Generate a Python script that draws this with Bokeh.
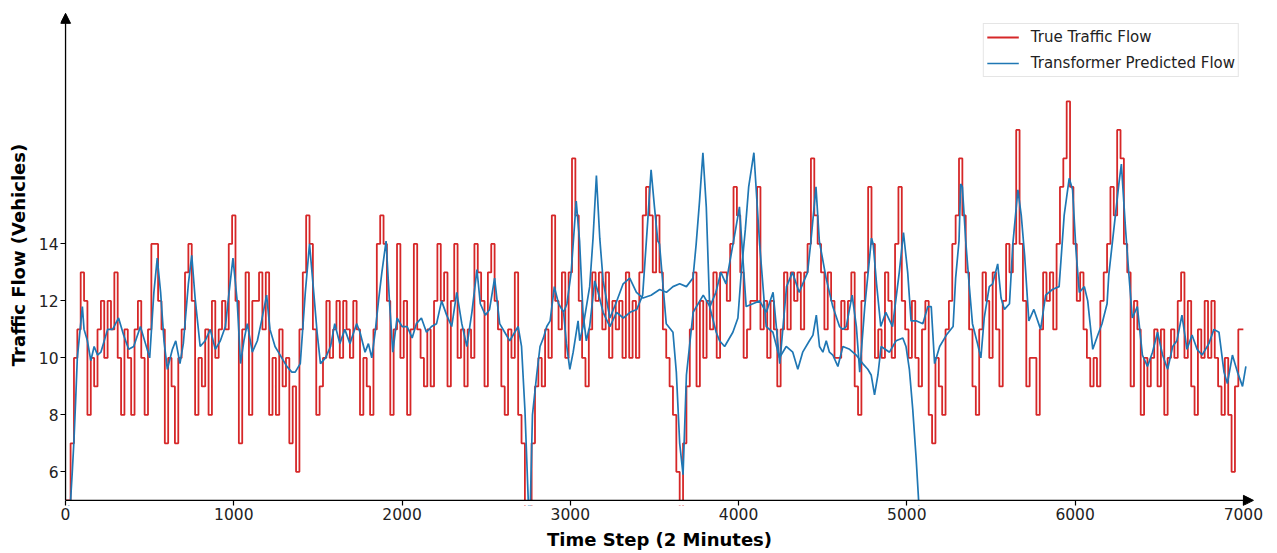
import numpy as np
from bokeh.plotting import figure
from bokeh.models import FixedTicker, Range1d, Arrow, NormalHead, BoxAnnotation
from bokeh.embed import file_html
from bokeh.resources import INLINE

# ---------------- data ----------------
true_step = 20  # sampling interval of the true-flow trace (time steps)
true_flow = [
    5, 5, 7, 10, 11, 13, 12, 8, 10, 9, 11, 12, 10, 12, 11, 13, 10, 8, 11, 10,
    8, 11, 12, 10, 8, 11, 14, 14, 12, 11, 7, 10, 9, 7, 10, 11, 13, 14, 12, 8,
    10, 9, 11, 8, 12, 10, 11, 12, 11, 14,
    15, 12, 7, 11, 13, 8, 12, 12, 13, 11, 13, 8, 10, 8, 11, 9, 10, 7, 9, 6,
    11, 13, 15, 14, 11, 8, 9, 10, 12, 10, 11, 12, 10, 12, 11, 10, 12, 11, 8, 10,
    9, 8, 11, 14, 15, 14, 12, 8, 11, 14,
    10, 12, 8, 11, 14, 11, 10, 9, 11, 9, 12, 14, 12, 13, 9, 12, 14, 10, 11, 9,
    11, 10, 14, 13, 12, 9, 13, 14, 12, 11, 9, 8, 11, 10, 13, 8, 7, 4, 4, 7,
    9, 10, 9, 11, 10, 15, 12, 11, 13, 10,
    13, 17, 15, 12, 10, 9, 11, 13, 12, 13, 11, 13, 10, 12, 11, 12, 10, 13, 10, 12,
    10, 13, 15, 16, 15, 13, 15, 13, 11, 10, 9, 8, 6, 4, 7, 9, 11, 13, 9, 12,
    10, 12, 11, 13, 10, 13, 13, 12, 14, 16,
    15, 13, 10, 11, 12, 12, 16, 11, 12, 10, 12, 11, 9, 11, 13, 11, 13, 12, 13, 11,
    13, 14, 17, 15, 14, 13, 11, 13, 12, 10, 10, 12, 11, 12, 13, 9, 8, 12, 13, 16,
    14, 10, 11, 10, 13, 12, 10, 14, 16, 12,
    11, 10, 12, 10, 9, 11, 12, 8, 7, 10, 9, 8, 11, 12, 14, 15, 17, 15, 13, 11,
    9, 8, 11, 13, 12, 10, 13, 11, 9, 12, 14, 13, 14, 18, 14, 12, 9, 10, 10, 8,
    11, 13, 12, 13, 11, 14, 16, 17, 19, 16,
    14, 12, 13, 11, 10, 9, 10, 9, 12, 13, 14, 16, 15, 18, 17, 14, 13, 9, 12, 11,
    8, 10, 9, 10, 11, 9, 11, 8, 10, 11, 10, 12, 13, 10, 12, 9, 8, 11, 10, 12,
    10, 12, 10, 9, 8, 10, 8, 6, 9, 11,
    11,
]

pred_time = [
    0, 30, 40, 50, 60, 70, 85, 100, 110, 130,
    150, 170, 190, 210, 230, 250, 280, 315, 345, 375,
    405, 445, 475, 500, 525, 545, 565, 585, 605, 635,
    655, 680, 700, 730, 750, 770, 800, 830, 860, 890,
    920, 950, 970, 995, 1020, 1040, 1060, 1080, 1110, 1140,
    1165, 1195, 1215, 1245, 1265, 1285, 1315, 1345, 1365, 1395,
    1425, 1450, 1475, 1495, 1515, 1545, 1575, 1600, 1630, 1660,
    1690, 1730, 1750, 1780, 1800, 1820, 1840, 1860, 1880, 1905,
    1925, 1945, 1970, 2000, 2030, 2060, 2085, 2115, 2145, 2175,
    2205, 2235, 2265, 2295, 2325, 2355, 2385, 2415, 2445, 2465,
    2495, 2520, 2550, 2580, 2610, 2640, 2690, 2710, 2730, 2750,
    2760, 2775, 2800, 2820, 2840, 2860, 2880, 2905, 2930, 2960,
    2980, 3005, 3035, 3055, 3075, 3095, 3115, 3145, 3165, 3195,
    3235, 3275, 3315, 3355, 3395, 3430, 3460, 3480, 3500, 3520,
    3530, 3570, 3610, 3630, 3650, 3670, 3690, 3730, 3790, 3830,
    3865, 3895, 3925, 3985, 4005, 4045, 4085, 4125, 4165, 4205,
    4245, 4285, 4320, 4360, 4410, 4430, 4460, 4480, 4520, 4560,
    4600, 4620, 4640, 4675, 4700, 4720, 4750, 4790, 4800, 4820,
    4845, 4875, 4915, 4955, 4980, 5005, 5025, 5055, 5095, 5125,
    5145, 5165, 5195, 5235, 5275, 5290, 5310, 5320, 5330, 5350,
    5370, 5390, 5420, 5440, 5460, 5490, 5510, 5540, 5560, 5580,
    5610, 5630, 5660, 5680, 5700, 5725, 5755, 5795, 5825, 5865,
    5905, 5935, 5965, 5985, 6005, 6025, 6055, 6075, 6105, 6135,
    6160, 6190, 6200, 6230, 6260, 6275, 6300, 6320, 6340, 6370,
    6400, 6430, 6460, 6490, 6520, 6550, 6580, 6605, 6635, 6665,
    6695, 6725, 6755, 6795, 6825, 6855, 6885, 6905, 6935, 6965,
    6995, 7015,
]
pred_flow = [
    4.5, 5.0, 6.0, 7.1, 8.5, 10.0, 10.9, 11.8, 11.0, 10.6,
    9.9, 10.4, 10.1, 10.2, 10.6, 11.0, 11.0, 11.4, 10.8, 10.3,
    10.4, 11.1, 10.5, 10.0, 12.3, 13.5, 12.3, 10.6, 9.6, 10.3,
    10.6, 9.8, 10.5, 12.6, 13.6, 12.1, 10.4, 10.6, 11.0, 10.3,
    10.6, 11.1, 12.2, 13.5, 12.0, 9.8, 10.6, 11.2, 10.2, 10.6,
    11.3, 12.2, 11.0, 10.4, 10.2, 10.0, 9.7, 9.5, 9.5, 9.8,
    12.3, 14.0, 12.3, 10.9, 9.8, 10.0, 10.4, 11.2, 10.5, 11.0,
    10.5, 11.2, 10.9, 10.2, 10.5, 10.0, 10.9, 12.0, 13.0, 14.1,
    12.0, 10.2, 11.4, 11.1, 11.1, 10.7, 11.2, 11.4, 10.9, 11.1,
    11.2, 12.0, 11.5, 11.1, 12.3, 11.2, 10.4, 11.6, 13.1, 11.9,
    11.5, 11.7, 12.8, 11.2, 10.9, 10.6, 11.1, 10.4, 8.2, 5.0,
    4.3, 8.0, 9.4, 10.4, 10.7, 11.1, 11.3, 12.5, 11.9, 11.6,
    11.9, 13.0, 15.5, 14.1, 11.6, 10.6, 11.1, 12.7, 12.3, 11.6,
    11.1, 11.6, 11.4, 11.6, 11.7, 12.2, 14.8, 16.6, 15.3, 14.1,
    14.0, 11.2, 10.9, 9.5, 7.0, 5.9, 9.4, 11.6, 12.2, 11.8,
    12.3, 13.0, 12.6, 14.6, 15.3, 11.8, 11.9, 12.0, 11.6, 12.3,
    9.8, 12.5, 13.0, 12.3, 13.0, 14.1, 16.0, 14.1, 12.8, 11.8,
    11.1, 11.0, 11.1, 12.2, 11.1, 9.5, 11.8, 14.2, 14.0, 12.6,
    11.1, 11.6, 11.1, 13.0, 14.4, 13.0, 11.3, 11.3, 11.2, 11.8,
    11.8, 9.8, 10.4, 10.8, 11.1, 12.8, 14.1, 16.1, 16.0, 14.1,
    12.6, 11.2, 10.5, 10.0, 11.4, 12.5, 12.6, 13.3, 12.1, 11.7,
    11.9, 14.0, 15.9, 15.0, 13.6, 11.3, 11.7, 11.0, 12.2, 12.4,
    12.5, 15.0, 16.3, 15.9, 13.8, 12.3, 12.5, 12.0, 10.3, 10.8,
    11.2, 11.9, 12.9, 14.5, 16.1, 16.8, 14.5, 12.9, 11.4, 11.8,
    10.1, 9.7, 10.2, 10.9, 10.1, 9.6, 10.4, 10.6, 11.5, 10.3,
    10.8, 10.3, 10.1, 10.5, 11.0, 10.9, 9.5, 9.1, 10.1, 9.5,
    9.0, 9.7,
]

# second (overlapping) stretch of the predicted trace
pred_alt_time = [
    2960, 2977, 2997, 3017, 3046, 3056, 3076, 3115, 3135, 3155,
    3175, 3195, 3235, 3270, 3314, 3353, 3393, 3432, 3480, 3531,
    3571, 3610, 3650, 3690, 3729, 3748, 3768, 3788, 3808, 3828,
    3867, 3887, 3917, 3966, 3996, 4016, 4040, 4060, 4091, 4125,
    4164, 4204, 4243, 4283, 4322, 4352, 4381, 4421, 4442, 4462,
    4481, 4501, 4521, 4540, 4560, 4590, 4620, 4660, 4699, 4738,
    4768, 4788, 4808, 4828, 4847, 4897, 4936, 4976, 4995, 5015,
    5035, 5055, 5075, 5090,
]
pred_alt_flow = [
    11.6, 10.5, 9.6, 10.2, 11.3, 10.6, 11.1, 12.5, 14.2, 16.4,
    14.2, 12.7, 11.4, 11.9, 12.6, 12.8, 12.3, 12.1, 12.2, 12.4,
    12.3, 12.5, 12.6, 12.5, 12.8, 14.0, 15.5, 17.2, 15.3, 11.8,
    10.9, 10.6, 10.4, 10.9, 11.4, 13.0, 14.5, 16.0, 17.2, 14.0,
    11.1, 10.9, 10.0, 10.4, 10.2, 9.6, 10.2, 10.6, 10.8, 11.5,
    10.4, 10.2, 10.6, 10.2, 10.1, 9.7, 10.4, 10.3, 10.1, 9.8,
    9.6, 9.4, 8.7, 9.4, 10.4, 10.2, 10.6, 10.7, 10.4, 9.6,
    8.2, 6.5, 4.5, 2.0,
]

x_ticks = [0, 1000, 2000, 3000, 4000, 5000, 6000, 7000]
y_ticks = [6, 8, 10, 12, 14]
x_axis_start, x_arrow_end = 0, 7060   # where the drawn axes start / end
y_axis_start, y_arrow_end = 5, 22.09
x_lo, x_hi = -30, 7090                 # plotting ranges (a little wider)
y_lo, y_hi = 4.82, 22.40

true_time = np.arange(len(true_flow)) * true_step

RED = "#d62728"
BLUE = "#1f77b4"
FONT = "DejaVu Sans"

p = figure(frame_width=1198, frame_height=501, output_backend="svg",
           toolbar_location=None,
           x_range=Range1d(x_lo, x_hi), y_range=Range1d(y_lo, y_hi),
           min_border_left=60, min_border_right=10, min_border_top=4,
           min_border_bottom=20)
p.outline_line_color = None
p.grid.grid_line_color = None
p.background_fill_color = "white"

p.step(true_time, true_flow, mode="center", line_color=RED, line_width=1.8,
       legend_label="True Traffic Flow")
p.line(pred_time, pred_flow, line_color=BLUE, line_width=1.7,
       legend_label="Transformer Predicted Flow")
p.line(pred_alt_time, pred_alt_flow, line_color=BLUE, line_width=1.7)

# hide whatever falls below the x axis line (like matplotlib clipping)
p.add_layout(BoxAnnotation(top=y_axis_start, fill_color="white", fill_alpha=1.0,
                           line_alpha=0, level="glyph"))

# axes drawn as arrows
head = dict(size=10, fill_color="black", line_color="black")
p.add_layout(Arrow(end=NormalHead(**head),
                   x_start=x_axis_start, y_start=y_axis_start,
                   x_end=x_axis_start, y_end=y_arrow_end,
                   line_color="black", line_width=1.3))
p.add_layout(Arrow(end=NormalHead(**head),
                   x_start=x_axis_start, y_start=y_axis_start,
                   x_end=x_arrow_end, y_end=y_axis_start,
                   line_color="black", line_width=1.3))

for ax in (p.xaxis, p.yaxis):
    ax.axis_line_color = None
    ax.major_tick_line_color = "black"
    ax.major_tick_line_width = 1.2
    ax.major_tick_out = 0
    ax.major_tick_in = 5
    ax.minor_tick_line_color = None
    ax.major_label_text_font = FONT
    ax.major_label_text_font_size = "15.5px"
    ax.major_label_text_color = "#222222"
    ax.major_label_standoff = 2
    ax.axis_label_text_font = FONT
    ax.axis_label_text_font_size = "18px"
    ax.axis_label_text_font_style = "bold"
    ax.axis_label_text_color = "black"

p.xaxis.ticker = FixedTicker(ticks=x_ticks)
p.yaxis.ticker = FixedTicker(ticks=y_ticks)
p.xaxis.axis_label = "Time Step (2 Minutes)"
p.yaxis.axis_label = "Traffic Flow (Vehicles)"
p.xaxis.axis_label_standoff = 6
p.yaxis.axis_label_standoff = 7

lg = p.legend[0]
lg.location = "top_right"
lg.margin = 19
lg.padding = 3
lg.spacing = 6
lg.glyph_width = 32
lg.glyph_height = 20
lg.label_height = 20
lg.label_standoff = 12
lg.label_text_font = FONT
lg.label_text_font_size = "15px"
lg.label_text_color = "#222222"
lg.border_line_color = "#cccccc"
lg.border_line_width = 1
lg.background_fill_alpha = 0.9

open("out.html", "w").write(file_html(p, INLINE))
